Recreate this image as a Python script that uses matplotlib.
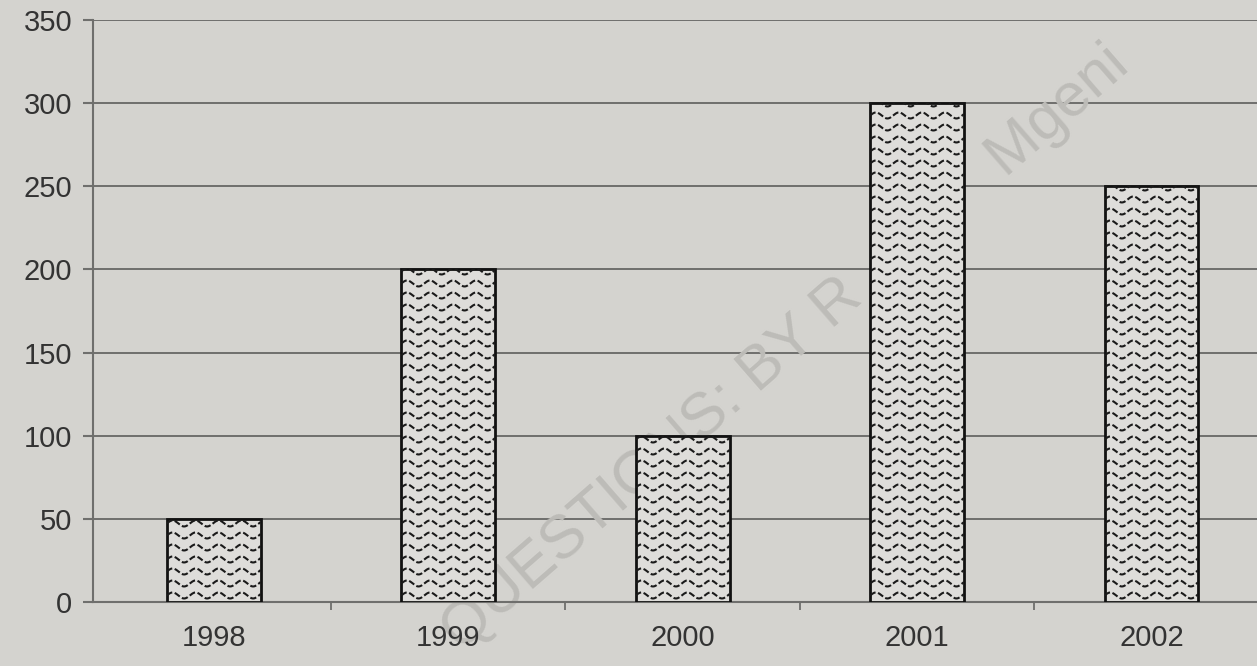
import numpy as np
import matplotlib.pyplot as plt

years = ['1998', '1999', '2000', '2001', '2002']
values = [50, 200, 100, 300, 250]
yticks = [0, 50, 100, 150, 200, 250, 300, 350]

bg = '#d4d3cf'
grid_c = '#6f6f6d'
text_c = '#333333'
font = ['Liberation Sans Narrow', 'Liberation Sans', 'DejaVu Sans']

W, H = 1257, 666
fig = plt.figure(figsize=(W / 100, H / 100), dpi=100, facecolor=bg)
ax = fig.add_axes([0.074, 0.096, 0.926, 0.874], facecolor=bg)

x = np.arange(len(years))
ax.set_xlim(-0.515, 4.45)
ax.set_ylim(0, 350)

# gridlines
for v in yticks[1:]:
    ax.axhline(v, color=grid_c, lw=1.4, zorder=1)

# watermark, above the gridlines but behind the bars and tick labels
ax.text(432 / W, 1 - 662 / H, 'QUESTIONS: BY R' + ' ' * 11 + 'Mgeni',
        transform=fig.transFigure, clip_on=False,
        rotation=41, ha='left', va='bottom',
        fontsize=44, color='#bdbcb8', family=['Liberation Sans', 'DejaVu Sans'],
        zorder=1.5)

bars = ax.bar(x, values, width=0.4, facecolor='#dedddA', edgecolor='#111111',
              lw=2, zorder=3)

# wavy fill pattern inside each bar (pixel sizes converted to data units)
px_x = (ax.get_xlim()[1] - ax.get_xlim()[0]) / (0.926 * W)
px_y = 350 / (0.874 * H)
row_gap = 12 * px_y
amp = 3 * px_y
period = 23 * px_x
for b in bars:
    x0 = b.get_x()
    x1 = x0 + b.get_width()
    h = b.get_height()
    xs = np.linspace(x0, x1, 200)
    rows = np.arange(row_gap * 0.55, h, row_gap)
    for r in rows:
        ys = r + amp * np.sin(2 * np.pi * (xs - x0) / period)
        ln, = ax.plot(xs, ys, color='#1a1a1a', lw=1.5, ls=(0, (3, 1.2)), zorder=4)
        ln.set_clip_path(b)

for s in ['top', 'right']:
    ax.spines[s].set_visible(False)
ax.spines['left'].set_color(grid_c)
ax.spines['left'].set_linewidth(1.5)
ax.spines['bottom'].set_color(grid_c)
ax.spines['bottom'].set_linewidth(1.5)

ax.set_yticks(yticks)
ax.set_yticklabels([str(v) for v in yticks], fontsize=21, color=text_c, family=font)
ax.tick_params(axis='y', length=7, width=1.5, color=grid_c, pad=8)

ax.set_xticks(x)
ax.set_xticklabels(years, fontsize=21, color=text_c, family=font)
ax.set_xticks(x[:-1] + 0.5, minor=True)
ax.tick_params(axis='x', which='major', length=0, pad=16)
ax.tick_params(axis='x', which='minor', length=6, width=1.3, color=grid_c)

plt.savefig('out.png', dpi=100, facecolor=bg)
